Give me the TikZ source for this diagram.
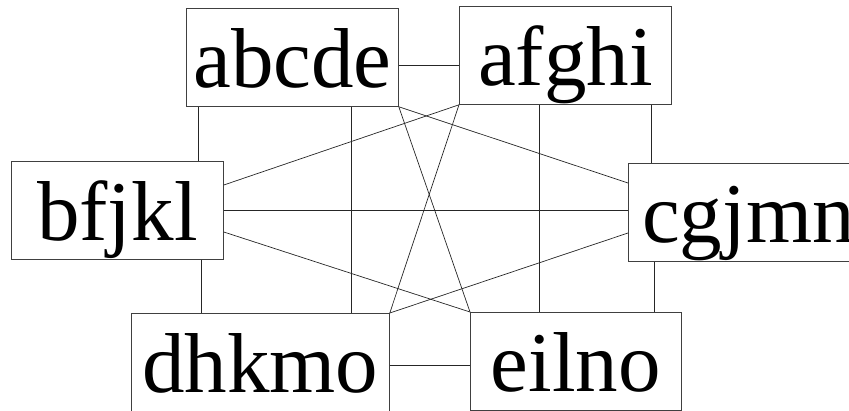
\documentclass[tikz,border=0pt]{standalone}
\usepackage{fontspec}
\setmainfont{Liberation Serif}

\tikzset{
  setbox/.style={draw=black!75, line width=0.8pt, anchor=north west, inner sep=0pt,
    text height=79pt, text depth=19pt, minimum width=212pt,
    font=\fontsize{85}{85}\selectfont},
  link/.style={draw=black!85, line width=0.7pt}
}

\begin{document}
\begin{tikzpicture}[x=1pt,y=-1pt]
      \useasboundingbox (0,0) rectangle (849,410);
      \clip (0,0) rectangle (849,410);
      % sets
      \node[setbox] (abcde) at (186,8) {abcde};
      \node[setbox] (afghi) at (459,6) {afghi};
      \node[setbox] (bfjkl) at (11,161) {bfjkl};
      \node[setbox, minimum width=240pt] (cgjmn) at (628,163) {cgjmn};
      \node[setbox, minimum width=258pt] (dhkmo) at (131,313) {dhkmo};
      \node[setbox, minimum width=211pt] (eilno) at (470,312) {eilno};
      % straight links
      \draw[link] ([yshift=-57pt]abcde.north east) coordinate (h1) -- (h1 -| afghi.west);
      \draw[link] (bfjkl.east) -- (bfjkl.east -| cgjmn.west);
      \draw[link] ([yshift=-52pt]dhkmo.north east) coordinate (h2) -- (h2 -| eilno.west);
      \draw[link] ([xshift=12pt]abcde.south west) coordinate (v1) -- (v1 |- bfjkl.north);
      \draw[link] ([xshift=165pt]abcde.south west) coordinate (v2) -- (v2 |- dhkmo.north);
      \draw[link] ([xshift=80pt]afghi.south west) coordinate (v3) -- (v3 |- eilno.north);
      \draw[link] ([xshift=192pt]afghi.south west) coordinate (v4) -- (v4 |- cgjmn.north);
      \draw[link] ([xshift=190pt]bfjkl.south west) coordinate (v5) -- (v5 |- dhkmo.north);
      \draw[link] ([xshift=26pt]cgjmn.south west) coordinate (v6) -- (v6 |- eilno.north);
      % crossing links
      \draw[link] (abcde.south east) -- (eilno.north west);
      \draw[link] (abcde.south east) -- ([yshift=-20pt]cgjmn.north west);
      \draw[link] (afghi.south west) -- ([yshift=-24pt]bfjkl.north east);
      \draw[link] (afghi.south west) -- (dhkmo.north east);
      \draw[link] ([yshift=-71pt]bfjkl.north east) -- (eilno.north west);
      \draw[link] ([yshift=-70pt]cgjmn.north west) -- (dhkmo.north east);
\end{tikzpicture}
\end{document}
